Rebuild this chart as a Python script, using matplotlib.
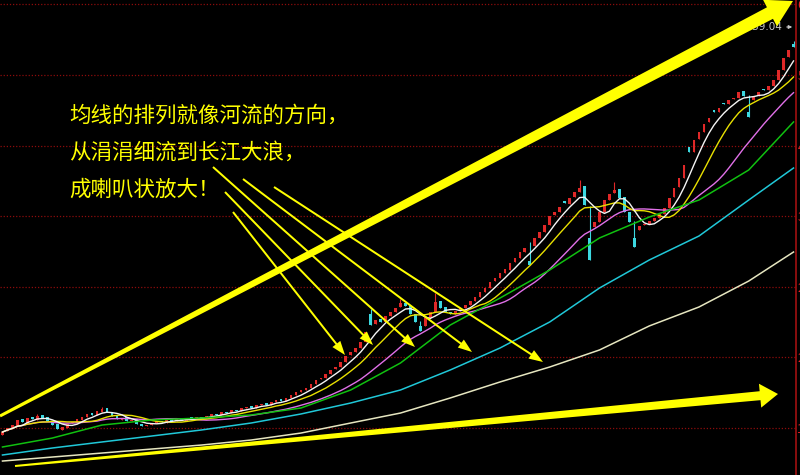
import numpy as np
import pandas as pd
import matplotlib
matplotlib.use("Agg")
import matplotlib.pyplot as plt
from matplotlib.patches import Polygon

plt.rcParams['font.family'] = ['Noto Sans CJK SC', 'DejaVu Sans']

# daily candles (price units of the right axis)
OPEN = [1010,1060,1090,1130,1215,1170,1240,1205,1260,1235,
        1180,1150,1080,1105,1160,1170,1200,1235,1290,1260,
        1300,1350,1300,1260,1205,1235,1185,1210,1150,1120,
        1135,1160,1195,1170,1210,1185,1220,1195,1235,1210,
        1245,1225,1250,1285,1265,1310,1290,1335,1315,1350,
        1375,1355,1390,1415,1395,1430,1465,1445,1480,1520,
        1555,1590,1610,1660,1720,1740,1785,1850,1880,1940,
        2025,2070,2120,2200,2560,2420,2490,2450,2530,2575,
        2640,2700,2650,2550,2460,2400,2500,2580,2720,2640,
        2580,2550,2590,2625,2670,2715,2770,2840,2880,2970,
        3010,3080,3120,3215,3270,3350,3470,3420,3520,3600,
        3690,3810,3860,3995,3960,4040,4110,4180,3930,3660,
        3730,3860,4010,4090,4150,4040,3860,3740,3620,3690,
        3700,3735,3780,3830,3910,4040,4170,4290,4680,4620,
        4780,4880,5000,5150,5130,5240,5230,5290,5310,5400,
        5340,5280,5330,5420,5410,5460,5540,5670,5830,5990]
CLOSE = [1049,1100,1138,1202,1177,1228,1215,1253,1228,1189,
         1138,1087,1113,1151,1177,1215,1240,1279,1266,1317,
         1342,1304,1253,1215,1228,1189,1202,1151,1126,1138,
         1164,1189,1177,1202,1189,1215,1202,1228,1215,1240,
         1228,1253,1279,1266,1304,1291,1330,1317,1355,1368,
         1355,1393,1406,1393,1432,1457,1444,1483,1521,1559,
         1585,1610,1661,1712,1738,1789,1840,1878,1942,2018,
         2069,2120,2197,2324,2413,2477,2452,2528,2579,2630,
         2694,2656,2554,2452,2401,2503,2579,2707,2630,2579,
         2554,2592,2630,2668,2719,2770,2834,2885,2962,3013,
         3076,3127,3204,3268,3344,3395,3420,3523,3599,3688,
         3803,3854,3918,3969,4033,4109,4160,3943,3650,3727,
         3854,4007,4084,4135,4033,3854,3727,3625,3676,3701,
         3739,3778,3829,3905,4033,4160,4288,4453,4619,4772,
         4874,4976,5053,5129,5180,5231,5282,5308,5384,5333,
         5282,5320,5384,5410,5461,5537,5665,5818,5920,5960]

# candles with visible shadows
SPIKE_IDX = [7, 20, 74, 80, 84, 87, 106, 116, 118, 123, 127, 150, 159]
SPIKE_HIGH = [1280, 1370, 2620, 2740, 2460, 2820, 3470, 4262, 3930, 4237, 3740, 5340, 6039.04]
SPIKE_LOW = [1205, 1300, 2413, 2640, 2340, 2580, 3178, 4110, 3242, 4090, 3408, 5065, 5960]

# long moving averages, read every 10 bars
MA_IDX = [0, 10, 20, 30, 40, 50, 60, 70, 80, 90, 100, 110, 120, 130, 140, 150, 159]
MA60 = [858, 972, 1138, 1202, 1228, 1266, 1355, 1585, 1929, 2413, 2757, 3115, 3523, 3790, 4007, 4390, 5002]
MA120 = [756, 845, 922, 998, 1075, 1164, 1279, 1419, 1585, 1840, 2120, 2452, 2885, 3242, 3548, 4007, 4415]
MA250 = [679, 730, 781, 832, 883, 947, 1036, 1164, 1291, 1483, 1687, 1878, 2095, 2401, 2643, 2974, 3344]

GRID = [1100, 2000, 2900, 3800, 4700, 5600, 6500]
MAX_LABEL = "6039.04"

TEXT_LINES = ["均线的排列就像河流的方向，", "从涓涓细流到长江大浪，", "成喇叭状放大！"]

# pointer arrows in pixel space: (x0, y0, x1, y1)
SMALL_ARROWS = [(233, 212, 345, 355), (225, 192, 373, 345), (213, 167, 415, 347),
                (243, 179, 472, 352), (274, 187, 543, 362)]

RED = "#e02828"
CYAN = "#3cd8e0"
YELLOW = "#ffff00"

fig = plt.figure(figsize=(8, 4.75), dpi=100, facecolor="black")
ax = fig.add_axes([0, 0, 796 / 800, 1], facecolor="black")

N = len(CLOSE)
x = np.arange(N)
o = np.array(OPEN, dtype=float)
c = np.array(CLOSE, dtype=float)
hi = np.maximum(o, c)
lo = np.minimum(o, c)
hi[SPIKE_IDX] = SPIKE_HIGH
lo[SPIKE_IDX] = SPIKE_LOW
up = c >= o
cols = np.where(up, RED, CYAN)

ax.vlines(x, lo, hi, colors=cols, linewidth=0.8, zorder=2)
ax.bar(x, np.abs(c - o), bottom=lo, width=0.55, color=cols, linewidth=0, zorder=2)

s = pd.Series(c)
ax.plot(x, s.rolling(20, min_periods=1).mean(), color="#e070e8", lw=1.0, zorder=3)
ax.plot(x, s.rolling(10, min_periods=1).mean(), color="#e8e000", lw=1.0, zorder=3)
ax.plot(x, s.rolling(5, min_periods=1).mean(), color="#f4f4f4", lw=1.0, zorder=3)
ax.plot(MA_IDX, MA60, color="#10c010", lw=1.1, zorder=3)
ax.plot(MA_IDX, MA120, color="#20c8d8", lw=1.1, zorder=3)
ax.plot(MA_IDX, MA250, color="#e6e6c0", lw=1.1, zorder=3)

ax.set_xlim(-0.5, N - 0.5)
ax.set_ylim(501, 6557)
ax.set_xticks([])
ax.set_yticks(GRID)
ax.set_yticklabels(["%.2f" % g for g in GRID])
ax.yaxis.tick_right()
ax.tick_params(axis="y", length=0, pad=1, labelcolor=RED, labelsize=9)
ax.yaxis.grid(True, color="#8c0c0c", linestyle=(0, (1, 1.5)), linewidth=0.9)
ax.set_axisbelow(True)
for side in ["top", "bottom", "left"]:
    ax.spines[side].set_visible(False)
ax.spines["right"].set_color("#a01010")
ax.spines["right"].set_linewidth(1.2)

# overlay in pixel coordinates for the hand-drawn notes
ov = fig.add_axes([0, 0, 1, 1], facecolor="none")
ov.set_xlim(0, 800)
ov.set_ylim(475, 0)
ov.axis("off")


def arrow(x0, y0, x1, y1, w0, w1, head_w, head_len, color=YELLOW):
    p0 = np.array([x0, y0], dtype=float)
    tip = np.array([x1, y1], dtype=float)
    u = (tip - p0) / np.hypot(*(tip - p0))
    n = np.array([-u[1], u[0]])
    base = tip - u * head_len
    pts = [p0 + n * w0 / 2, base + n * w1 / 2, base + n * head_w / 2, tip,
           base - n * head_w / 2, base - n * w1 / 2, p0 - n * w0 / 2]
    ov.add_patch(Polygon(pts, closed=True, facecolor=color, edgecolor="none", zorder=5))


# highest price marker
ov.text(782, 27, MAX_LABEL, color="#c8c8c8", fontsize=7.5, family="DejaVu Sans",
        ha="right", va="center", zorder=4)
ov.annotate("", xy=(795, 27), xytext=(784, 27), zorder=4,
            arrowprops=dict(arrowstyle="-|>", color="#c8c8c8", lw=0.8, mutation_scale=5))

arrow(0, 416, 793, 1, 3, 13, 30, 26)
arrow(15, 466, 778, 394, 2, 9, 24, 18)
for a in SMALL_ARROWS:
    arrow(a[0], a[1], a[2], a[3], 2, 2, 10, 14)

for k, line in enumerate(TEXT_LINES):
    ov.text(69, 116 + k * 37, line, color=YELLOW, fontsize=15.5, ha="left", va="center", zorder=6)

fig.savefig("out.png", dpi=100, facecolor="black")
